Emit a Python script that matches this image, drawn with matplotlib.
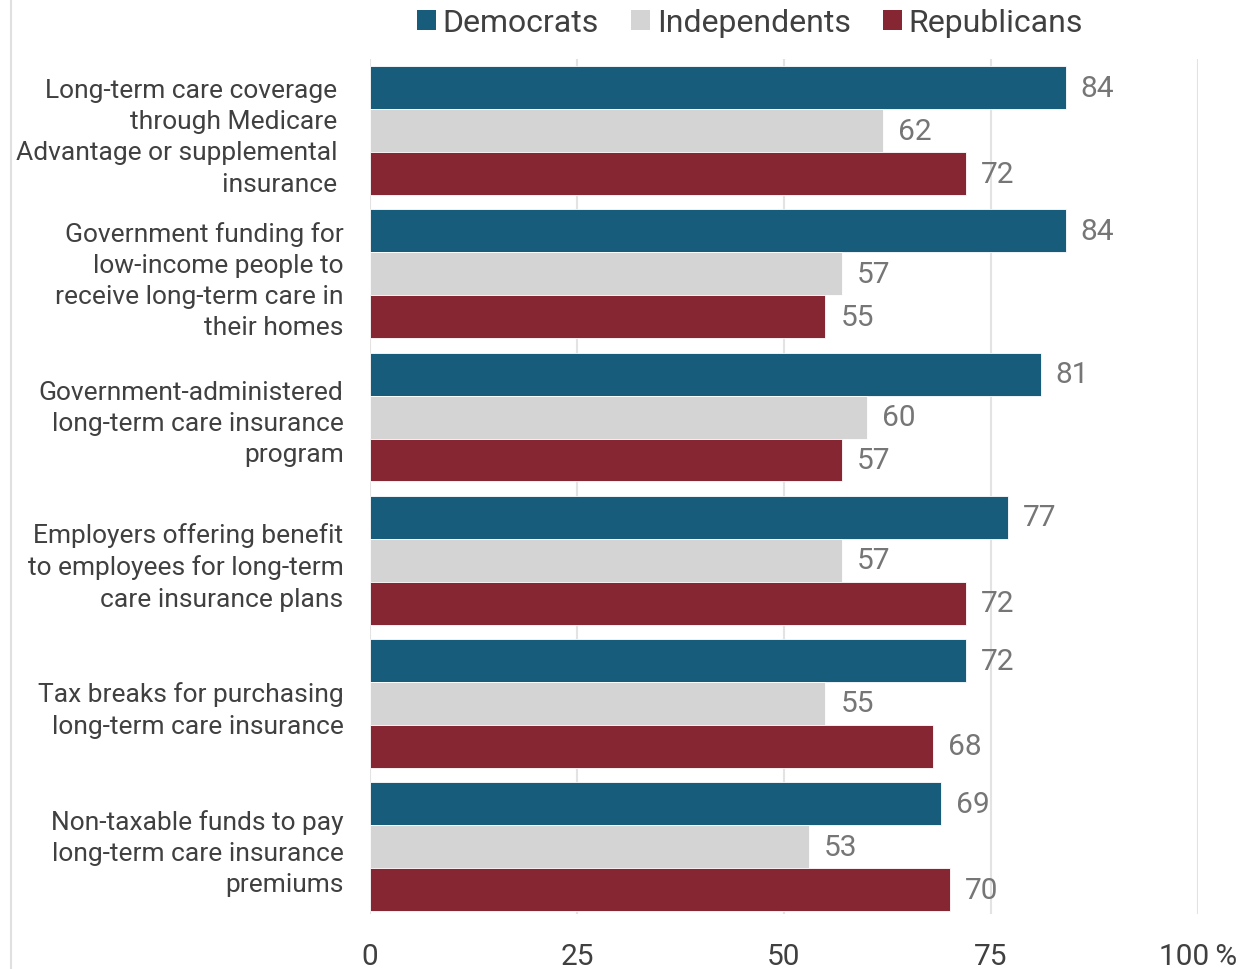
import matplotlib
matplotlib.use("Agg")
import matplotlib.pyplot as plt
import numpy as np
from matplotlib.lines import Line2D
from matplotlib.patches import Patch

plt.rcParams['font.family'] = ['Roboto', 'DejaVu Sans']

categories = [
    "Long-term care coverage \nthrough Medicare \nAdvantage or supplemental \ninsurance ",
    "Government funding for\nlow-income people to\nreceive long-term care in\ntheir homes",
    "Government-administered\nlong-term care insurance\nprogram",
    "Employers offering benefit\nto employees for long-term\ncare insurance plans",
    "Tax breaks for purchasing\nlong-term care insurance",
    "Non-taxable funds to pay\nlong-term care insurance\npremiums",
]
series_names = ["Democrats", "Independents", "Republicans"]
democrats = [84, 84, 81, 77, 72, 69]
independents = [62, 57, 60, 57, 55, 53]
republicans = [72, 55, 57, 72, 68, 70]
x_ticks = [0, 25, 50, 75, 100]
x_tick_labels = ["0", "25", "50", "75", "100\u2009%"]

colors = ["#175c7b", "#d4d4d4", "#862633"]
label_color = "#404040"
value_color = "#767676"

fig = plt.figure(figsize=(12.56, 9.70), dpi=100)
ax = fig.add_axes([370 / 1256, 1 - 915 / 970, (1198 - 370) / 1256, (915 - 60) / 970])

y = np.arange(len(categories))
h = 0.3
for i, (vals, col) in enumerate(zip([democrats, independents, republicans], colors)):
    pos = y + (i - 1) * h
    ax.barh(pos, vals, height=h, color=col, edgecolor="white", linewidth=0.6, zorder=2)
    for p, v in zip(pos, vals):
        ax.text(v + 1.8, p, f"{v}", va="center", ha="left", fontsize=21.5,
                color=value_color)

ax.set_ylim(5.47, -0.5)
ax.set_xlim(0, 100)
ax.set_xticks(x_ticks)
ax.set_xticklabels(x_tick_labels, fontsize=21.5, color=label_color)
ax.set_yticks(y)
ax.set_yticklabels(categories, fontsize=19, color=label_color, linespacing=1.38)
ax.tick_params(axis="both", length=0)
ax.tick_params(axis="y", pad=19)
ax.tick_params(axis="x", pad=20)
ax.grid(axis="x", color="#e3e3e3", linewidth=1.5, zorder=0)
ax.set_axisbelow(True)
for s in ax.spines.values():
    s.set_visible(False)

handles = [Patch(facecolor=c, edgecolor="none") for c in colors]
fig.legend(handles, series_names, loc="center", bbox_to_anchor=(750 / 1256, 1 - 24 / 970),
           ncol=3, frameon=False, fontsize=23, handlelength=0.6, handleheight=0.6,
           handletextpad=0.2, columnspacing=1.0, labelcolor=label_color)

fig.add_artist(Line2D([10.5 / 1256, 10.5 / 1256], [0, 1], transform=fig.transFigure,
                      color="#e0e0e0", linewidth=1.5))

fig.savefig("out.png", dpi=100)
